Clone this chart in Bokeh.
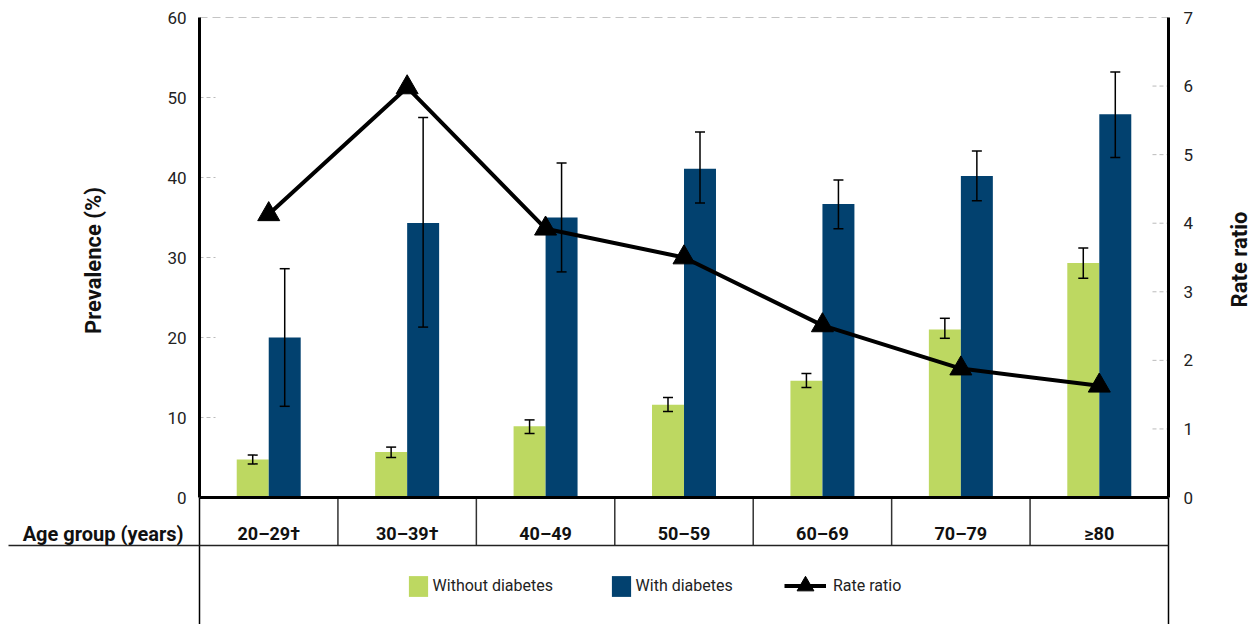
from math import pi
from bokeh.plotting import figure
from bokeh.models import (Range1d, LinearAxis, FixedTicker, Whisker, TeeHead, ColumnDataSource,
                          Legend, LegendItem, GridBox)
from bokeh.core.properties import value
from bokeh.embed import file_html
from bokeh.resources import INLINE

# ---- data ----
categories = ["20–29†", "30–39†", "40–49", "50–59", "60–69", "70–79", "≥80"]
without_diabetes = [4.75, 5.7, 8.9, 11.6, 14.6, 21.0, 29.3]
without_lower = [4.2, 5.0, 8.0, 10.75, 13.75, 19.9, 27.4]
without_upper = [5.3, 6.3, 9.7, 12.5, 15.5, 22.4, 31.2]
with_diabetes = [20.0, 34.3, 35.0, 41.1, 36.7, 40.2, 47.9]
with_lower = [11.4, 21.3, 28.2, 36.8, 33.6, 37.1, 42.5]
with_upper = [28.6, 47.5, 41.8, 45.7, 39.7, 43.3, 53.2]
rate_ratio = [4.13, 5.98, 3.92, 3.50, 2.51, 1.88, 1.63]
left_ticks = [0, 10, 20, 30, 40, 50, 60]
right_ticks = [0, 1, 2, 3, 4, 5, 6, 7]

FONT = "Roboto"
GREEN = "#bdd861"
BLUE = "#02416f"
W, H = 1254, 624

n = len(categories)
off = 0.1156
bw = 0.231
xc = [i + 0.5 for i in range(n)]
src = ColumnDataSource(dict(
    cat=categories,
    xc=xc,
    xg=[x - off for x in xc],
    xb=[x + off for x in xc],
    without=without_diabetes, wo_lo=without_lower, wo_hi=without_upper,
    withd=with_diabetes, wi_lo=with_lower, wi_hi=with_upper,
    ratio=rate_ratio,
))

YTOP = 60.125
YMIN = -15.875
XPAD = 0.01445
p = figure(width=W, height=H, output_backend="svg", toolbar_location=None, tools="",
           x_range=Range1d(-XPAD, n + XPAD), y_range=Range1d(YMIN, YTOP),
           x_axis_location=None,
           min_border_left=197, min_border_right=84, min_border_top=16, min_border_bottom=0)
p.outline_line_color = None
for g in p.grid:
    g.visible = False
p.extra_y_ranges = {"y2": Range1d(YMIN * 7 / 60, YTOP * 7 / 60)}

# left axis
ya = p.yaxis[0]
ya.ticker = FixedTicker(ticks=left_ticks)
ya.bounds = (0, 60)
ya.axis_line_color = None
ya.major_tick_in = 0
ya.major_tick_out = 0
ya.minor_tick_line_color = None
ya.major_label_text_font = FONT
ya.major_label_text_font_size = "17px"
ya.major_label_text_color = "#222222"
ya.major_label_standoff = 11

ra = LinearAxis(y_range_name="y2", ticker=FixedTicker(ticks=right_ticks), bounds=(0, 7),
                axis_line_color=None, major_tick_in=0, major_tick_out=0,
                minor_tick_line_color=None,
                major_label_text_font=FONT, major_label_text_font_size="17px",
                major_label_text_color="#222222", major_label_standoff=13)
p.add_layout(ra, "right")

# inward dashed tick stubs and top dashed line
stub = 16 / 138.43
inner_l = [t for t in left_ticks if 0 < t < 60]
p.segment(x0=0, y0=inner_l, x1=stub, y1=inner_l, line_color="#bbbbbb", line_dash="4 3", line_width=1)
inner_r = [t for t in right_ticks if 0 < t < 7]
p.segment(x0=n - stub, y0=inner_r, x1=n, y1=inner_r, line_color="#bbbbbb", line_dash="4 3",
          line_width=1, y_range_name="y2")
p.segment(x0=0, y0=60, x1=n, y1=60, line_color="#c4c4c4", line_dash="8 5", line_width=1)

# bars
bar_g = p.vbar(x="xg", top="without", bottom=0, width=bw, fill_color=GREEN, line_color=None, source=src)
bar_b = p.vbar(x="xb", top="withd", bottom=0, width=bw, fill_color=BLUE, line_color=None, source=src)

# error bars
for base, lo, hi in (("xg", "wo_lo", "wo_hi"), ("xb", "wi_lo", "wi_hi")):
    w = Whisker(source=src, base=base, lower=lo, upper=hi, dimension="height", level="overlay",
                line_color="black", line_width=1.5,
                upper_head=TeeHead(size=10, line_color="black", line_width=1.5),
                lower_head=TeeHead(size=10, line_color="black", line_width=1.5))
    p.add_layout(w)

# frame lines (axis lines and table grid)
p.segment(x0=[0, n], y0=0, x1=[0, n], y1=60, line_color="black", line_width=3)
p.segment(x0=[0, n], y0=YMIN, x1=[0, n], y1=0, line_color="black", line_width=1.5)
p.segment(x0=list(range(1, n)), y0=0, x1=list(range(1, n)), y1=-6, line_color="#333333", line_width=1.5)
p.segment(x0=[0], y0=-6, x1=[n], y1=-6, line_color="#222222", line_width=1.5)
p.segment(x0=[0], y0=0, x1=[n], y1=0, line_color="black", line_width=3)

# rate ratio
lr = p.line(x="xc", y="ratio", y_range_name="y2", line_width=4, line_color="black", source=src)
sr = p.scatter(x="xc", y="ratio", y_range_name="y2", marker="triangle", size=22,
               fill_color="black", line_color="black", source=src)

# category labels
p.text(x="xc", y=-4.5, text="cat", source=src, text_font=value(FONT), text_font_style="bold",
       text_font_size="18px", text_align="center", text_baseline="alphabetic", text_color="#111111")

# legends
common = dict(padding=0, margin=0, spacing=0, border_line_color=None, background_fill_alpha=0,
              label_text_font=FONT, label_text_font_size="16px", label_text_color="#222222")
p.add_layout(Legend(items=[LegendItem(label="Without diabetes", renderers=[bar_g])],
                    location=(208.6, 25.5), glyph_width=24, glyph_height=26, label_height=26,
                    label_standoff=3, **common))
p.add_layout(Legend(items=[LegendItem(label="With diabetes", renderers=[bar_b])],
                    location=(411.6, 25.5), glyph_width=24, glyph_height=26, label_height=26,
                    label_standoff=3, **common))
p.add_layout(Legend(items=[LegendItem(label="Rate ratio", renderers=[lr, sr])],
                    location=(587, 16), glyph_width=42, glyph_height=45, label_height=45,
                    label_standoff=7, **common))

# transparent overlay (same grid cell) for texts and the rule that lie outside the chart frame
ov = figure(width=W, height=H, output_backend="svg", toolbar_location=None, tools="",
            x_range=Range1d(0, W), y_range=Range1d(0, H),
            x_axis_location=None, y_axis_location=None,
            min_border_left=0, min_border_right=0, min_border_top=0, min_border_bottom=0)
ov.outline_line_color = None
for g in ov.grid:
    g.visible = False
ov.background_fill_alpha = 0
ov.border_fill_alpha = 0
for fig in (p, ov):
    try:
        fig.frame_align = False
    except Exception:
        pass
ov.text(x=[183], y=[H - 533], text=["Age group (years)"], text_font=value(FONT), text_font_style="bold",
        text_font_size="20px", text_align="right", text_baseline="alphabetic", text_color="#111111")
ov.segment(x0=[8], y0=[H - 545], x1=[199], y1=[H - 545], line_color="#222222", line_width=1.5)
ov.text(x=[93, 1239], y=[H - 260, H - 259], text=["Prevalence (%)", "Rate ratio"], angle=pi / 2,
        text_font=value(FONT), text_font_style="bold", text_font_size="22px",
        text_align="center", text_baseline="middle", text_color="#111111")

layout = GridBox(children=[(p, 0, 0), (ov, 0, 0)])
open("out.html", "w").write(file_html(layout, INLINE))
